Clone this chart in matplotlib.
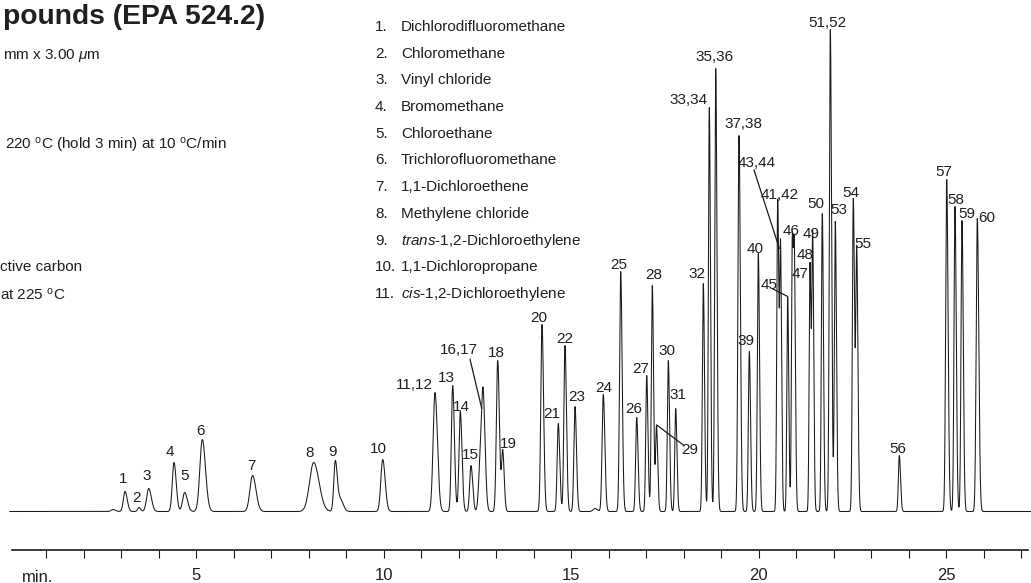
import numpy as np
import matplotlib
matplotlib.use("Agg")
import matplotlib.pyplot as plt

plt.rcParams['font.family'] = ['Liberation Sans', 'DejaVu Sans']
plt.rcParams['mathtext.fontset'] = 'custom'
plt.rcParams['mathtext.rm'] = 'Liberation Sans'
plt.rcParams['mathtext.it'] = 'Liberation Sans:italic'

# ---------------- data ----------------
title = "pounds (EPA 524.2)"
conditions = ["mm x 3.00 $\\it{\u03bc}$m",
              "220 $^{\\rm o}$C (hold 3 min) at 10 $^{\\rm o}$C/min",
              "ctive carbon",
              "at 225 $^{\\rm o}$C"]
legend_numbers = ["1.", "2.", "3.", "4.", "5.", "6.", "7.", "8.", "9.", "10.", "11."]
legend_names = ["Dichlorodifluoromethane", "Chloromethane", "Vinyl chloride",
                "Bromomethane", "Chloroethane", "Trichlorofluoromethane",
                "1,1-Dichloroethene", "Methylene chloride",
                "$\\it{trans}$-1,2-Dichloroethylene", "1,1-Dichloropropane",
                "$\\it{cis}$-1,2-Dichloroethylene"]

# retention time (min), peak height (a.u.), peak sigma (min)
peak_times = [2.78, 3.10, 3.47, 3.73, 4.405, 4.69, 5.16, 6.50, 8.13, 8.707, 8.84,
              9.971, 11.365, 11.837, 12.04, 12.325, 12.58, 12.653, 13.037, 13.171,
              14.219, 14.653, 14.832, 15.099, 15.63, 15.853, 16.317, 16.744, 17.011,
              17.16, 17.272, 17.587, 17.784, 18.52, 18.68, 18.851, 19.472, 19.747,
              19.987, 20.504, 20.58, 20.77, 20.893, 20.95, 21.365, 21.437, 21.693,
              21.907, 22.04, 22.52, 22.611, 23.747, 25.011, 25.232, 25.419, 25.827]
peak_heights = [2, 20, 4, 23, 49, 19, 72, 36, 49, 50, 12,
                52, 119, 126, 100, 46, 55, 97, 151, 60,
                187, 88, 166, 105, 3, 117, 240, 94, 136,
                226, 85, 151, 103, 228, 404, 443, 376, 160,
                258, 312, 255, 215, 270, 230, 248, 270, 298,
                482, 290, 313, 260, 56, 332, 305, 291, 293]
peak_sigmas = [0.05, 0.045, 0.035, 0.055, 0.045, 0.055, 0.065, 0.07, 0.11, 0.04, 0.06,
               0.05, 0.05, 0.035, 0.035, 0.035, 0.045, 0.04, 0.035, 0.03,
               0.032, 0.03, 0.03, 0.03, 0.05, 0.032, 0.03, 0.028, 0.026,
               0.026, 0.025, 0.026, 0.025, 0.025, 0.024, 0.026, 0.028, 0.025,
               0.025, 0.024, 0.022, 0.022, 0.022, 0.022, 0.022, 0.022, 0.024,
               0.026, 0.024, 0.025, 0.025, 0.025, 0.028, 0.026, 0.026, 0.03]

peak_label_text = ["1", "2", "3", "4", "5", "6", "7", "8", "9", "10", "11,12", "13", "14",
                   "15", "16,17", "18", "19", "20", "21", "22", "23", "24", "25", "26",
                   "27", "28", "29", "30", "31", "32", "33,34", "35,36", "37,38", "39",
                   "40", "41,42", "43,44", "45", "46", "47", "48", "49", "50", "51,52",
                   "53", "54", "55", "56", "57", "58", "59", "60"]
peak_label_x = [3.053, 3.411, 3.677, 4.299, 4.691, 5.117, 6.477, 8.032, 8.619, 9.853,
                10.805, 11.659, 12.059, 12.299, 12.013, 13.011, 13.32, 14.139, 14.485,
                14.832, 15.144, 15.853, 16.253, 16.653, 16.851, 17.187, 18.165, 17.544,
                17.853, 18.344, 18.12, 18.832, 19.587, 19.659, 19.907, 20.565, 19.944,
                20.285, 20.851, 21.099, 21.232, 21.392, 21.517, 21.837, 22.147, 22.459,
                22.787, 23.72, 24.939, 25.259, 25.544, 26.077]
peak_label_y = [28.2, 9.8, 31.5, 55.5, 31.5, 76.5, 41.2, 54.8, 55.5, 58.8,
                122.2, 129.5, 100.5, 52.8, 157.2, 154.5, 63.8, 189.8, 93.8,
                168.8, 110.5, 119.5, 242.8, 98.8, 138.8, 232.2, 57.2, 156.2,
                112.2, 233.8, 407.2, 450.5, 383.2, 166.2, 258.8, 312.8, 344.8,
                222.5, 276.2, 233.8, 252.2, 273.8, 303.8, 484.8, 297.2, 314.8,
                263.8, 58.8, 335.5, 307.8, 293.2, 289.5]

# leader lines (label -> peak): x0, y0, x1, y1
leader_lines = [(12.299, 152.2, 12.611, 103.2),
                (17.277, 86.5, 17.987, 66.5),
                (19.872, 341.5, 20.547, 263.2),
                (20.379, 222.5, 20.744, 215.5)]

major_ticks = [5, 10, 15, 20, 25]
minor_ticks = [1, 2, 3, 4, 6, 7, 8, 9, 11, 12, 13, 14, 16, 17, 18, 19, 21, 22, 23, 24, 26, 27]

# ---------------- figure ----------------
W, H = 1031, 583
fig = plt.figure(figsize=(W / 100, H / 100), dpi=100)

def fx(px):
    return px / W

def fy(py):
    return 1 - py / H

ax_left, ax_right, ax_bottom = 11.7, 1028.3, 550
ax = fig.add_axes([fx(ax_left), fy(ax_bottom), (ax_right - ax_left) / W, ax_bottom / H])
px_per_min = 37.5
x0_px = 8.8
ax.set_xlim((ax_left - x0_px) / px_per_min, (ax_right - x0_px) / px_per_min)
base_px = 511.5
ax.set_ylim(-(ax_bottom - base_px), base_px)
ax.patch.set_alpha(0)

# chromatogram trace
t = np.linspace(0.03, 27.27, 30000)
signal = np.zeros_like(t)
for tr, h, s in zip(peak_times, peak_heights, peak_sigmas):
    sig = np.where(t < tr, s, s * 1.3)
    signal += h * np.exp(-0.5 * ((t - tr) / sig) ** 2)
ax.plot(t, signal, color='#1a1a1a', lw=0.75, clip_on=False, solid_joinstyle='miter')

label_color = '#231f20'
for txt, lx, ly in zip(peak_label_text, peak_label_x, peak_label_y):
    ax.text(lx, ly, txt, ha='center', va='baseline', fontsize=11, color=label_color)
for x0, y0, x1, y1 in leader_lines:
    ax.plot([x0, x1], [y0, y1], color='#1a1a1a', lw=0.9)

# axis styling
for side in ['top', 'left', 'right']:
    ax.spines[side].set_visible(False)
ax.spines['bottom'].set_linewidth(1.2)
ax.spines['bottom'].set_color('#1a1a1a')
ax.set_yticks([])
ax.set_xticks(major_ticks)
ax.set_xticklabels([str(v) for v in major_ticks])
ax.set_xticks(minor_ticks, minor=True)
ax.tick_params(axis='x', which='both', direction='out', length=5.5, width=0.8,
               color='#1a1a1a', labelsize=12, pad=7.5, labelcolor=label_color)

fig.text(fx(22), fy(582), "min.", fontsize=12, color=label_color, ha='left', va='baseline')

# title (left part cut off in the reference)
fig.text(fx(3), fy(24), title, fontsize=20.3, fontweight='bold', color=label_color,
         ha='left', va='baseline')

# conditions text (left part cut off in the reference)
fig.text(fx(3), fy(59.3), conditions[0], fontsize=11, color=label_color, ha='left', va='baseline')
fig.text(fx(5), fy(150), conditions[1], fontsize=11, color=label_color, ha='left', va='baseline')
fig.text(fx(0.5), fy(270.7), conditions[2], fontsize=11, color=label_color, ha='left', va='baseline')
fig.text(fx(0.5), fy(299.3), conditions[3], fontsize=11, color=label_color, ha='left', va='baseline')

# compound legend
for i, (num, name) in enumerate(zip(legend_numbers, legend_names)):
    yb = 31 + 26.7 * i
    fig.text(fx(375), fy(yb), num, fontsize=11, color=label_color, ha='left', va='baseline')
    fig.text(fx(401), fy(yb), name, fontsize=11, color=label_color, ha='left', va='baseline')

fig.savefig("out.png", dpi=100)
